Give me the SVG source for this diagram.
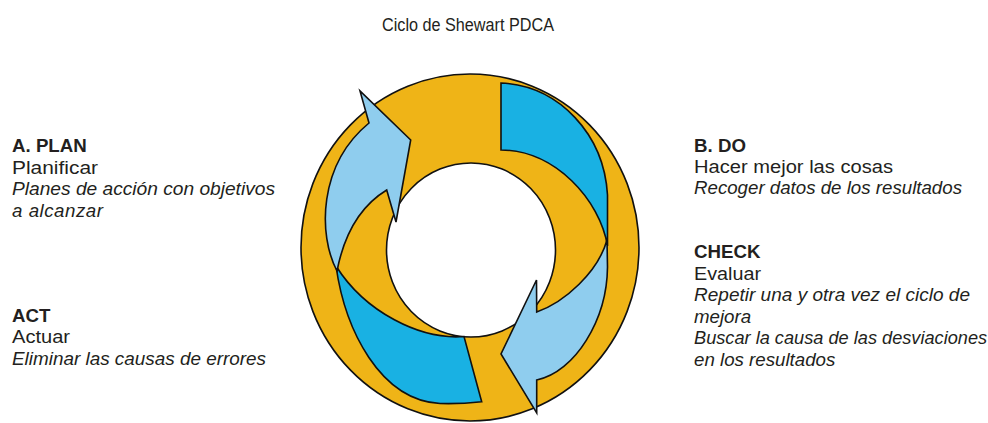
<svg xmlns="http://www.w3.org/2000/svg" width="988" height="423" viewBox="0 0 988 423">
<style>
  .t { font-family: "Liberation Sans", Arial, sans-serif; fill: #231f20; font-size: 18.7px; }
  .b { font-weight: bold; }
  .i { font-style: italic; }
  .ttl { font-family: "Liberation Sans", Arial, sans-serif; fill: #231f20; font-size: 17.5px; }
  .ring { fill: #efb417; stroke: #111; stroke-width: 1.6; }
  .hole { fill: #ffffff; stroke: #111; stroke-width: 1.6; }
  .dark { fill: #19b1e3; stroke: #111; stroke-width: 1.6; stroke-linejoin: miter; }
  .light { fill: #8fcdee; stroke: #111; stroke-width: 1.6; stroke-linejoin: miter; }
</style>
<rect width="988" height="423" fill="#ffffff"/>
<g id="title">
  <text class="ttl" x="382" y="30.7" textLength="172" lengthAdjust="spacingAndGlyphs">Ciclo de Shewart PDCA</text>
</g>
<g id="cycle">
  <ellipse class="ring" cx="470" cy="247.5" rx="169" ry="173.5"/>
  <ellipse class="hole" cx="471" cy="250" rx="84.5" ry="87"/>
</g>
<g id="connectors">
  <path id="band-do" class="dark" d="M501,83 C560,86 604,135 607.5,195 L607.5,246 C600,200 555,150 501,150 Z"/>
  <path id="band-act" class="dark" d="M336,266 C345,330 380,400 440,403.5 C455,404 470,403 481.7,401.7 L464,336.5 C420,340 365,312 336,266 Z"/>
  <path id="arrow-check" class="light" d="M607,240 L607.5,267 C607,320 575,372 536.7,380 L536.7,413 L501,354 L536.5,280 L536.7,312 C565,302 598,272 607,240 Z"/>
  <path id="arrow-plan" class="light" d="M337,271 C318,235 318,165 369,123 L360,91 L410.7,140 L396,222 L386.7,190 C362,205 345,230 337,271 Z"/>
</g>
<g id="plan">
  <text class="t b" x="12" y="152">A. PLAN</text>
  <text class="t" x="12" y="173.5" textLength="86" lengthAdjust="spacingAndGlyphs">Planificar</text>
  <text class="t i" x="12" y="195" textLength="263" lengthAdjust="spacingAndGlyphs">Planes de acción con objetivos</text>
  <text class="t i" x="12" y="216.5" textLength="91">a alcanzar</text>
</g>
<g id="act">
  <text class="t b" x="12" y="321.7">ACT</text>
  <text class="t" x="12" y="343" textLength="58" lengthAdjust="spacingAndGlyphs">Actuar</text>
  <text class="t i" x="12" y="364.7" textLength="254" lengthAdjust="spacingAndGlyphs">Eliminar las causas de errores</text>
</g>
<g id="do">
  <text class="t b" x="694" y="151.5">B. DO</text>
  <text class="t" x="694" y="172.5" textLength="199" lengthAdjust="spacingAndGlyphs">Hacer mejor las cosas</text>
  <text class="t i" x="694" y="194" textLength="268" lengthAdjust="spacingAndGlyphs">Recoger datos de los resultados</text>
</g>
<g id="check">
  <text class="t b" x="694" y="257.7">CHECK</text>
  <text class="t" x="694" y="279.5" textLength="67" lengthAdjust="spacingAndGlyphs">Evaluar</text>
  <text class="t i" x="694" y="301" textLength="276" lengthAdjust="spacingAndGlyphs">Repetir una y otra vez el ciclo de</text>
  <text class="t i" x="694" y="322.5">mejora</text>
  <text class="t i" x="694" y="344" style="font-size:18.2px">Buscar la causa de las desviaciones</text>
  <text class="t i" x="694" y="365.5">en los resultados</text>
</g>
</svg>
